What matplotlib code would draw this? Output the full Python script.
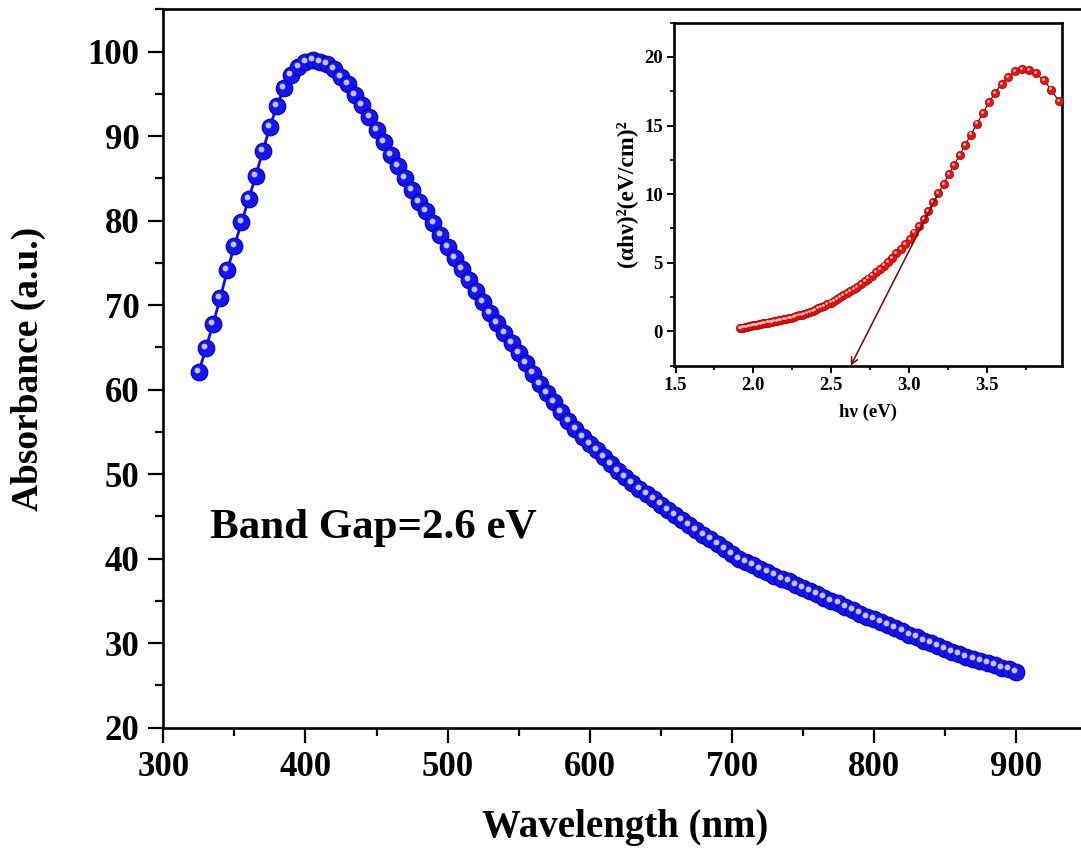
import numpy as np
import matplotlib.pyplot as plt
from matplotlib.ticker import MultipleLocator
from matplotlib.transforms import offset_copy

plt.rcParams['font.family'] = ['Liberation Serif', 'DejaVu Serif']
plt.rcParams['font.weight'] = 'bold'

# main spectrum, 5 nm steps from 325 to 900 nm
wavelength = np.arange(325, 901, 5)
absorbance = [
    62.1, 64.9, 67.8, 70.8, 74.1, 77.0, 79.8, 82.5, 85.3, 88.2,
    91.1, 93.6, 95.7, 97.2, 98.2, 98.8, 99.0, 98.8, 98.5, 97.9,
    97.0, 96.1, 94.9, 93.7, 92.2, 90.7, 89.3, 87.8, 86.4, 85.0,
    83.6, 82.2, 81.1, 79.7, 78.3, 76.9,
    75.6, 74.3, 73.0, 71.7, 70.4, 69.1, 67.9, 66.7, 65.5, 64.3,
    63.1, 61.9, 60.7, 59.6, 58.5, 57.3, 56.3, 55.3, 54.4, 53.6,
    52.8, 52.0, 51.2, 50.4, 49.6, 48.9, 48.2, 47.6, 47.0, 46.4,
    45.8, 45.2, 44.6, 44.0, 43.4, 42.8, 42.3, 41.7, 41.1, 40.5,
    40.0, 39.6, 39.2, 38.8, 38.4, 38.0, 37.6, 37.3, 36.9, 36.5,
    36.2, 35.8, 35.4, 35.0, 34.7, 34.3, 33.9, 33.5, 33.1, 32.8,
    32.5, 32.1, 31.8, 31.4, 31.0, 30.7, 30.3, 30.0, 29.7, 29.3,
    29.0, 28.7, 28.4, 28.1, 27.9, 27.6, 27.4, 27.1, 26.9, 26.6,
]

# Tauc plot inset, 4 nm steps converted to photon energy
inset_wl = np.arange(313, 650, 4)
inset_energy = 1240.0 / inset_wl
tauc = [
    16.76, 17.63, 18.30, 18.80, 19.05, 19.12, 18.95, 18.55, 18.05, 17.40,
    16.70, 15.90, 15.15, 14.35, 13.60, 12.85, 12.15, 11.45, 10.75, 10.05,
    9.40, 8.80, 8.20, 7.65, 7.20, 6.75, 6.35, 6.00, 5.70, 5.35,
    5.05, 4.80, 4.55, 4.30, 4.07, 3.85, 3.65, 3.45, 3.25, 3.07,
    2.92, 2.77, 2.62, 2.48, 2.35, 2.22, 2.10, 1.98, 1.87, 1.77,
    1.67, 1.58, 1.50, 1.42, 1.35, 1.28, 1.22, 1.16, 1.10, 1.05,
    1.00, 0.96, 0.92, 0.88, 0.84, 0.80, 0.77, 0.73, 0.70, 0.67,
    0.64, 0.61, 0.58, 0.55, 0.52, 0.49, 0.46, 0.43, 0.40, 0.37,
    0.34, 0.31, 0.28, 0.26, 0.24,
]
tangent_x = [3.18, 2.625]
tangent_y = [9.9, -2.5]

fig = plt.figure(figsize=(10.81, 8.56), dpi=100)
ax = fig.add_axes([0.1511, 0.1499, 0.8545, 0.8393])

ax.plot(wavelength, absorbance, '-', color='#1010e0', lw=2, zorder=2)
ax.plot(wavelength, absorbance, 'o', ms=12, mfc='#1414f5', mec='#0000b4', mew=0.8, zorder=3)
hl = offset_copy(ax.transData, fig=fig, x=-1.3, y=1.5, units='points')
ax.plot(wavelength, absorbance, 'o', ms=4.2, mfc='#d8d8ff', mec='none', alpha=0.9,
        transform=hl, zorder=4)

ax.set_xlim(300, 950)
ax.set_ylim(20, 105)
ax.xaxis.set_major_locator(MultipleLocator(100))
ax.xaxis.set_minor_locator(MultipleLocator(50))
ax.yaxis.set_major_locator(MultipleLocator(10))
ax.yaxis.set_minor_locator(MultipleLocator(5))
ax.tick_params(which='major', direction='out', length=11, width=1.6, labelsize=25, pad=6)
ax.tick_params(which='minor', direction='out', length=6, width=1.6)
for s in ax.spines.values():
    s.set_linewidth(1.9)
ax.set_xlabel('Wavelength (nm)', fontsize=28, fontweight='bold', labelpad=18)
ax.set_ylabel('Absorbance (a.u.)', fontsize=27, fontweight='bold', labelpad=30)
ax.text(332.8, 42.4, 'Band Gap=2.6 eV', fontsize=31, fontweight='bold',
        ha='left', va='baseline')

# inset
ins = fig.add_axes([0.6235, 0.5728, 0.3587, 0.4007])
ins.plot(inset_energy, tauc, '-', color='#300000', lw=0.8, zorder=2)
ins.plot(inset_energy, tauc, 'o', ms=6, mfc='#f01010', mec='#b00000', mew=0.5, zorder=3)
hl2 = offset_copy(ins.transData, fig=fig, x=-0.7, y=0.8, units='points')
ins.plot(inset_energy, tauc, 'o', ms=2.0, mfc='#ffc8c8', mec='none', transform=hl2, zorder=4)
ins.annotate('', xy=(tangent_x[1], tangent_y[1]), xytext=(tangent_x[0], tangent_y[0]),
             arrowprops=dict(arrowstyle='->', color='#7a0000', lw=1.1,
                             shrinkA=0, shrinkB=0, mutation_scale=12),
             annotation_clip=False, zorder=5)
ins.set_xlim(1.49, 3.98)
ins.set_ylim(-2.5, 22.5)
ins.xaxis.set_major_locator(MultipleLocator(0.5))
ins.xaxis.set_minor_locator(MultipleLocator(0.25))
ins.yaxis.set_major_locator(MultipleLocator(5))
ins.yaxis.set_minor_locator(MultipleLocator(2.5))
ins.tick_params(which='major', direction='out', length=5, width=1.4, labelsize=13.5, pad=3)
ins.tick_params(which='minor', direction='out', length=3, width=1.2)
for s in ins.spines.values():
    s.set_linewidth(1.9)
ins.set_xlabel('hν (eV)', fontsize=13.5, fontweight='bold', labelpad=7)
ins.set_ylabel('(αhν)²(eV/cm)²', fontsize=17, fontweight='bold', labelpad=5)

fig.savefig('out.png', dpi=100)
